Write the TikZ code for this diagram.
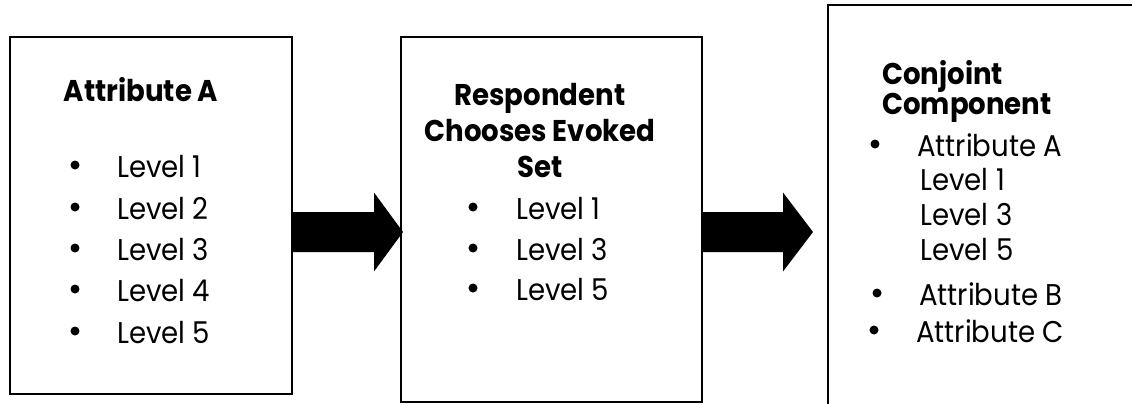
\documentclass[tikz,border=0pt]{standalone}
\usepackage{fontspec}
\setmainfont{Poppins}[FakeStretch=0.92]
\newcommand{\tightlines}{\lineskiplimit -30pt\relax}
\begin{document}
\begin{tikzpicture}[x=1pt,y=-1pt,
  boxframe/.style={draw=black,line width=2pt,fill=none,inner sep=0pt},
  itemtext/.style={anchor=base west,inner sep=0pt,font=\fontsize{30}{34}\selectfont},
  titletext/.style={anchor=base,inner sep=0pt,font=\fontsize{30}{34}\selectfont\bfseries},
  bulletdot/.style={circle,fill=black,inner sep=0pt,minimum size=9pt},
  bigarrow/.style={fill=black,draw=none}]
\useasboundingbox (0,0) rectangle (1132,404);
\fill[white] (0,0) rectangle (1132,404);
% boxes
\node[boxframe,minimum width=282pt,minimum height=356.5pt] (b1) at (151,215.75) {};
\node[boxframe,minimum width=301pt,minimum height=364.5pt] (b2) at (551.5,219.75) {};
\node[boxframe,minimum width=330pt,minimum height=420pt] (b3) at (993,215.5) {};
% box 1 content
\node[titletext] (t1) at (141,101) {Attribute A};
\foreach \i/\y in {1/177,2/219,3/260,4/301,5/343}{
  \node[bulletdot] (d1\i) at (75,\y-12) {};
  \node[itemtext] (l1\i) at (117,\y) {Level \i};
}
% box 2 content
\node[titletext] (t2a) at (540,105) {Respondent};
\node[titletext] (t2b) at (540,141) {Chooses Evoked};
\node[titletext] (t2c) at (540,177) {Set};
\foreach \i/\y in {1/219,3/260,5/300}{
  \node[bulletdot] (d2\i) at (473,\y-12) {};
  \node[itemtext] (l2\i) at (516,\y) {Level \i};
}
% box 3 content
\node[anchor=base west,inner sep=0pt,align=left,font=\fontsize{30}{30}\selectfont\bfseries\tightlines] (t3) at (882,114) {Conjoint\\Component};
\node[bulletdot] (d3a) at (875,144) {};
\node[itemtext] (a3a) at (917,156) {Attribute A};
\node[itemtext] (l31) at (920,190) {Level 1};
\node[itemtext] (l33) at (920,225) {Level 3};
\node[itemtext] (l35) at (920,260) {Level 5};
\node[bulletdot] (d3b) at (877,293) {};
\node[itemtext] (a3b) at (919,305) {Attribute B};
\node[bulletdot] (d3c) at (874,330) {};
\node[itemtext] (a3c) at (916,342) {Attribute C};
% arrows
\coordinate (ar1) at (b1.east |- 0,232);
\coordinate (ar2) at (b2.east |- 0,232);
\fill[bigarrow] (ar1) ++(0,-20) -- ++(81,0) -- ++(0,-19.5) -- ++(29,39.5) -- ++(-29,39.5) -- ++(0,-19.5) -- ++(-81,0) -- cycle;
\fill[bigarrow] (ar2) ++(0,-20) -- ++(80,0) -- ++(0,-19.5) -- ++(30,39.5) -- ++(-30,39.5) -- ++(0,-19.5) -- ++(-80,0) -- cycle;
\end{tikzpicture}
\end{document}
